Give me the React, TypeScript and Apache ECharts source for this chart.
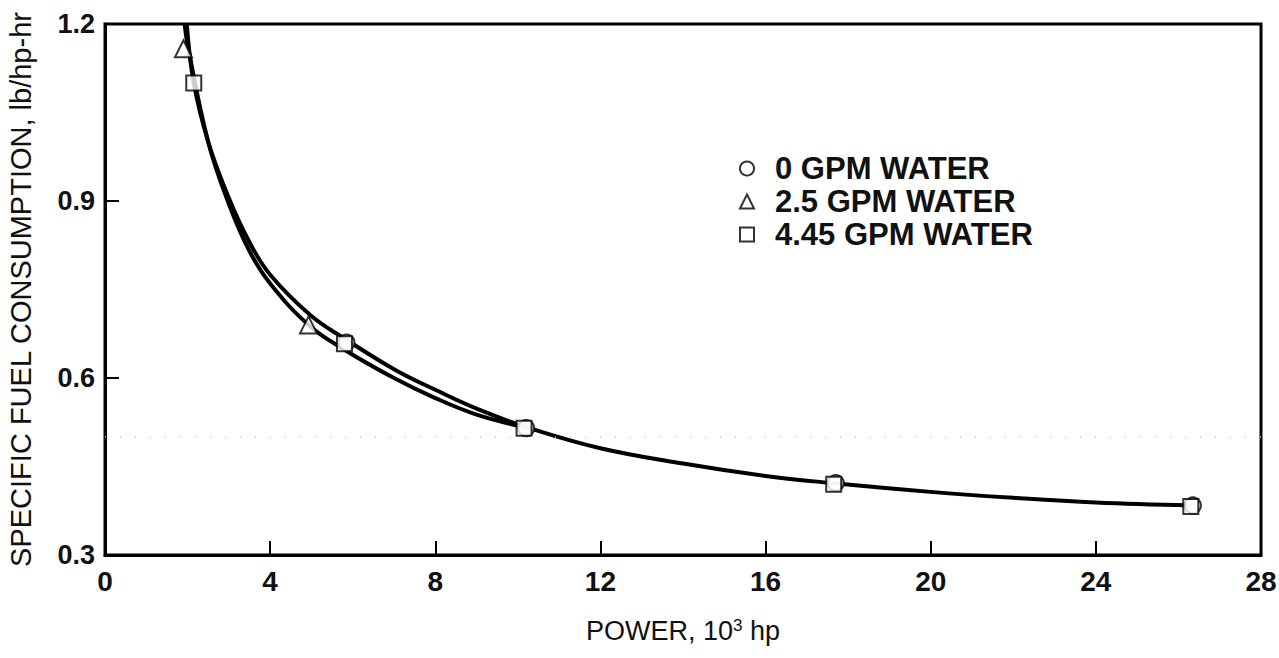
import React, { useEffect, useRef } from "react";
import * as echarts from "echarts";

// Tick values
const xTicks = [0, 4, 8, 12, 16, 20, 24, 28];
const yTicks = [0.3, 0.6, 0.9, 1.2];

// Fitted curve for 0 / 4.45 GPM water
const curveAX = [1.98, 2.15, 2.5, 3.0, 3.5, 4.0, 5.0, 5.8, 7.0, 8.0, 9.0, 10.2, 12, 14, 16, 17.6, 20, 22, 24, 26.3];
const curveAY = [1.2, 1.1, 1.0, 0.905, 0.83, 0.775, 0.705, 0.667, 0.615, 0.58, 0.548, 0.517, 0.481, 0.455, 0.434, 0.422, 0.407, 0.397, 0.389, 0.384];

// Fitted curve for 2.5 GPM water
const curveBX = [1.93, 2.0, 2.5, 3.0, 3.5, 4.0, 4.93, 5.8, 7.0, 8.0, 9.0, 10.2];
const curveBY = [1.2, 1.165, 1.0, 0.895, 0.815, 0.76, 0.69, 0.648, 0.6, 0.566, 0.538, 0.516];

// Test points
const gpm0X = [5.85, 10.2, 17.7, 26.35];
const gpm0Y = [0.66, 0.515, 0.422, 0.384];
const gpm25X = [1.9, 4.93];
const gpm25Y = [1.158, 0.69];
const gpm445X = [2.15, 5.8, 10.15, 17.65, 26.3];
const gpm445Y = [1.1, 0.658, 0.515, 0.42, 0.382];

const seriesNames = ["0 GPM WATER", "2.5 GPM WATER", "4.45 GPM WATER"];

const zip = (xs: number[], ys: number[]) => xs.map((x, i) => [x, ys[i]]);

const SANS = "Liberation Sans, Arial, sans-serif";
const NARROW = "Liberation Sans Narrow, Arial Narrow, Liberation Sans, sans-serif";

export default function App() {
  const ref = useRef<HTMLDivElement>(null);
  useEffect(() => {
    if (!ref.current) return;
    const chart = echarts.init(ref.current, null, { renderer: "svg" });
    const markerStyle = { color: "#fff", borderColor: "#000", borderWidth: 2 };
    chart.setOption({
      animation: false,
      backgroundColor: "#fff",
      textStyle: { fontFamily: SANS, color: "#000" },
      grid: {
        left: 105,
        right: 18,
        top: 24,
        bottom: 103,
        containLabel: false,
        outerBoundsMode: "none",
        show: true,
        borderColor: "#000",
        borderWidth: 3,
        backgroundColor: "transparent",
      },
      legend: {
        orient: "vertical",
        left: 734,
        top: 148,
        itemWidth: 14,
        itemHeight: 14,
        itemGap: 2,
        data: [
          { name: seriesNames[0], icon: "circle" },
          { name: seriesNames[1], icon: "triangle" },
          { name: seriesNames[2], icon: "rect" },
        ],
        itemStyle: { color: "#fff", borderColor: "#000", borderWidth: 2 },
        textStyle: {
          fontSize: 31,
          fontWeight: "bold",
          lineHeight: 28,
          color: "#111",
          fontFamily: SANS,
          padding: [0, 0, 0, 16],
        },
        selectedMode: false,
      },
      xAxis: {
        type: "value",
        min: xTicks[0],
        max: xTicks[xTicks.length - 1],
        interval: 4,
        splitLine: { show: false },
        axisLine: { show: true, lineStyle: { color: "#000", width: 3 } },
        axisTick: { show: true, inside: true, length: 14, lineStyle: { color: "#000", width: 2 } },
        axisLabel: {
          margin: 12,
          fontSize: 28,
          fontWeight: "bold",
          color: "#111",
          fontFamily: NARROW,
        },
        name: "POWER, 10{sup|3} hp",
        nameLocation: "middle",
        nameGap: 62,
        nameTextStyle: {
          fontSize: 27,
          color: "#111",
          fontFamily: NARROW,
          rich: {
            sup: {
              fontSize: 17,
              verticalAlign: "top",
              padding: [0, 0, 10, 0],
              fontFamily: NARROW,
              color: "#111",
            },
          },
        },
      },
      yAxis: {
        type: "value",
        min: yTicks[0],
        max: yTicks[yTicks.length - 1],
        interval: 0.3,
        splitLine: { show: false },
        axisLine: { show: true, lineStyle: { color: "#000", width: 3 } },
        axisTick: { show: true, inside: true, length: 14, lineStyle: { color: "#000", width: 2 } },
        axisLabel: {
          margin: 10,
          fontSize: 27,
          fontWeight: "bold",
          color: "#111",
          formatter: (v: number) => v.toFixed(1),
        },
        name: "SPECIFIC FUEL CONSUMPTION, lb/hp-hr",
        nameLocation: "middle",
        nameRotate: 90,
        nameGap: 70,
        nameTextStyle: { fontSize: 29, color: "#111" },
      },
      series: [
        {
          type: "line",
          name: "curveA",
          data: zip(curveAX, curveAY),
          smooth: 0.4,
          showSymbol: false,
          lineStyle: { color: "#000", width: 4 },
          z: 2,
          markLine: {
            silent: true,
            symbol: "none",
            label: { show: false },
            lineStyle: { color: "#c8c8c8", type: [1, 14], width: 1.5 },
            data: [{ yAxis: 0.5 }],
          },
        },
        {
          type: "line",
          name: "curveB",
          data: zip(curveBX, curveBY),
          smooth: 0.4,
          showSymbol: false,
          lineStyle: { color: "#000", width: 4 },
          z: 2,
        },
        {
          type: "scatter",
          name: seriesNames[0],
          data: zip(gpm0X, gpm0Y),
          symbol: "circle",
          symbolSize: 16,
          itemStyle: markerStyle,
          z: 3,
        },
        {
          type: "scatter",
          name: seriesNames[1],
          data: zip(gpm25X, gpm25Y),
          symbol: "triangle",
          symbolSize: 17,
          itemStyle: markerStyle,
          z: 4,
        },
        {
          type: "scatter",
          name: seriesNames[2],
          data: zip(gpm445X, gpm445Y),
          symbol: "rect",
          symbolSize: 15,
          itemStyle: markerStyle,
          z: 5,
        },
      ],
    });
    return () => chart.dispose();
  }, []);
  return <div ref={ref} style={{ width: 1279, height: 658, position: "absolute", left: 0, top: 0 }} />;
}
